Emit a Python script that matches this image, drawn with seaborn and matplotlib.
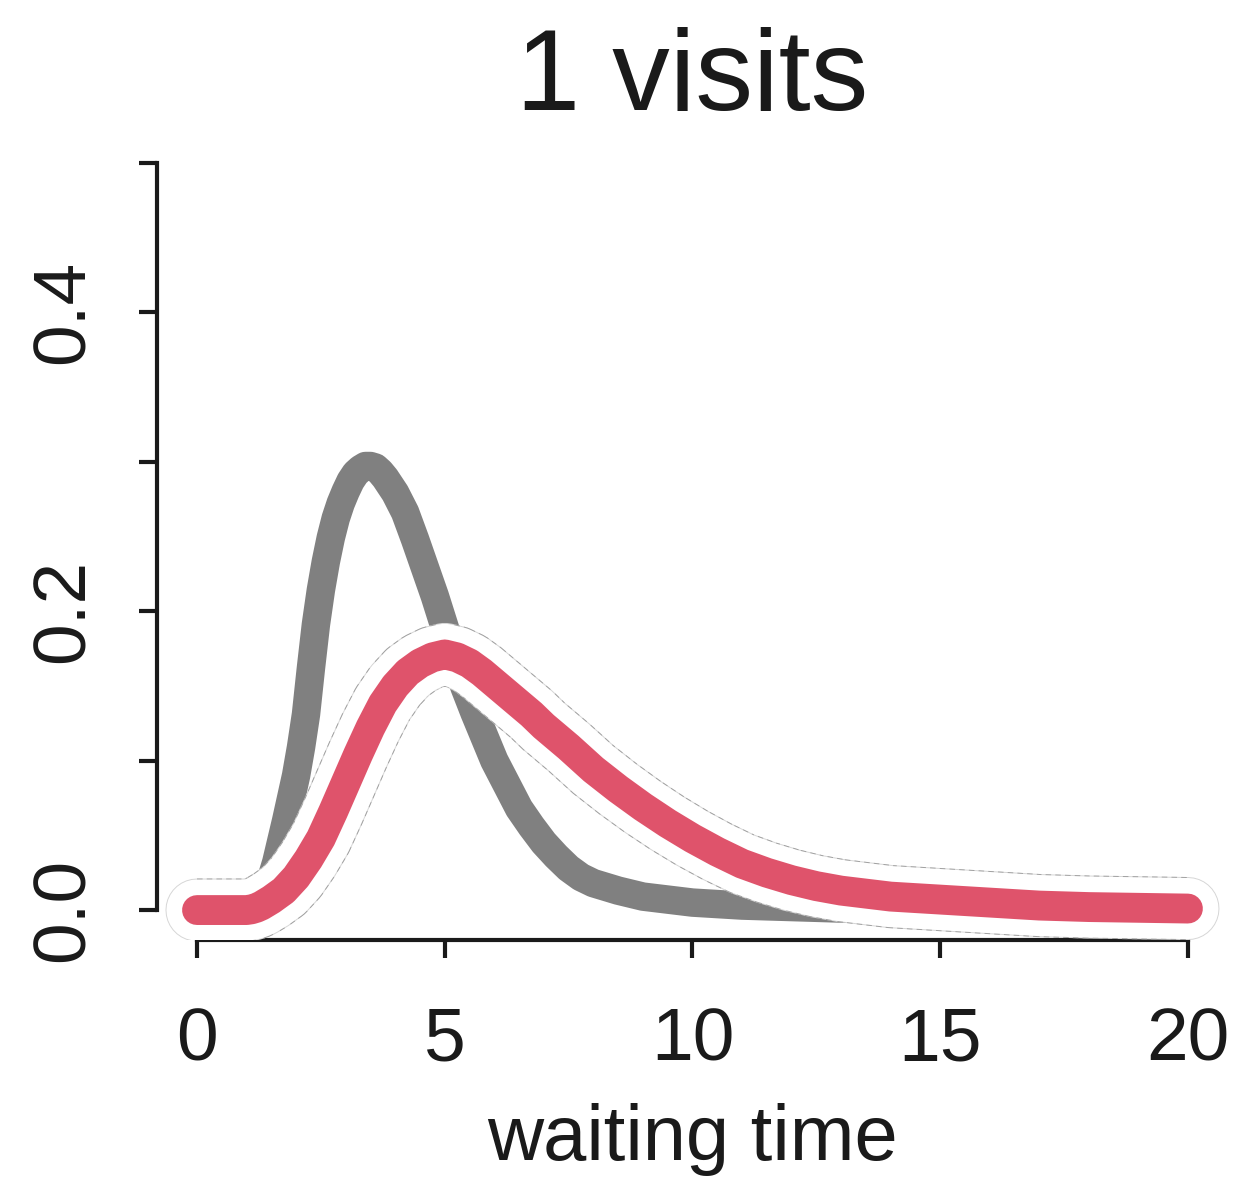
import matplotlib
matplotlib.use("Agg")
import matplotlib.pyplot as plt
import seaborn as sns
import pandas as pd

# waiting-time density with one visit (gray) and the updated density (red)
prior_t = [0.0, 0.5, 1.0, 1.1, 1.2, 1.3, 1.4, 1.5, 1.6, 1.7, 1.8, 1.9, 2.0, 2.1,
           2.2, 2.3, 2.4, 2.5, 2.6, 2.7, 2.8, 2.9, 3.0, 3.1, 3.2, 3.3, 3.4, 3.5,
           3.6, 3.7, 3.8, 3.9, 4.0, 4.2, 4.4, 4.6, 4.8, 5.0, 5.2, 5.4, 5.6, 5.8,
           6.0, 6.25, 6.5, 6.75, 7.0, 7.25, 7.5, 7.75, 8.0, 8.5, 9.0, 9.5, 10.0,
           10.5, 11.0, 12.0, 13.0, 14.0, 15.0, 16.0, 17.0, 18.0, 19.0, 20.0]
prior_density = [0.0, 0.0, 0.0, 0.001, 0.003, 0.007, 0.013, 0.021, 0.032, 0.046,
                 0.060, 0.075, 0.090, 0.109, 0.131, 0.162, 0.191, 0.214, 0.233,
                 0.249, 0.262, 0.272, 0.280, 0.287, 0.292, 0.295, 0.297, 0.297,
                 0.296, 0.293, 0.289, 0.284, 0.279, 0.266, 0.248, 0.229, 0.210,
                 0.189, 0.168, 0.149, 0.132, 0.116, 0.100, 0.084, 0.068, 0.056,
                 0.045, 0.036, 0.028, 0.022, 0.018, 0.013, 0.009, 0.007, 0.005,
                 0.004, 0.003, 0.002, 0.001, 0.0005, 0.0, 0.0, 0.0, 0.0, 0.0, 0.0]

post_t = [0.0, 0.5, 1.0, 1.1, 1.2, 1.3, 1.4, 1.5, 1.75, 2.0, 2.25, 2.5, 2.75,
          3.0, 3.25, 3.5, 3.75, 4.0, 4.25, 4.5, 4.75, 5.0, 5.25, 5.5, 5.75, 6.0,
          6.25, 6.5, 6.75, 7.0, 7.5, 8.0, 8.5, 9.0, 9.5, 10.0, 10.5, 11.0, 11.5,
          12.0, 12.5, 13.0, 14.0, 15.0, 16.0, 17.0, 18.0, 19.0, 20.0]
post_density = [0.0, 0.0, 0.0, 0.0005, 0.0015, 0.003, 0.005, 0.007, 0.013, 0.022,
                0.034, 0.048, 0.066, 0.085, 0.104, 0.122, 0.138, 0.150, 0.159,
                0.165, 0.169, 0.171, 0.169, 0.165, 0.159, 0.152, 0.145, 0.138,
                0.131, 0.123, 0.109, 0.094, 0.081, 0.069, 0.058, 0.048, 0.039,
                0.031, 0.025, 0.020, 0.016, 0.013, 0.009, 0.007, 0.005, 0.003,
                0.002, 0.0015, 0.001]

title_text = "1 visits"
x_label = "waiting time"
x_ticks = [0, 5, 10, 15, 20]
y_ticks = [0.0, 0.1, 0.2, 0.3, 0.4, 0.5]
y_tick_labels = ["0.0", "", "0.2", "", "0.4", ""]

GRAY = "#808080"
RED = "#DF536B"
INK = "#1a1a1a"

sns.set_theme(style="white")
plt.rcParams["font.family"] = ["Liberation Sans", "DejaVu Sans"]
plt.rcParams["lines.scale_dashes"] = False

prior_df = pd.DataFrame({"t": prior_t, "density": prior_density})
post_df = pd.DataFrame({"t": post_t, "density": post_density})

fig = plt.figure(figsize=(12.45, 11.81), dpi=100)
ax = fig.add_axes([0.1264, 0.2041, 0.8596, 0.6836])

lw_gray = 20.5
lw_red = 21.5
lw_halo = 44

round_ends = dict(solid_capstyle="round", solid_joinstyle="round", sort=False)
sns.lineplot(data=prior_df, x="t", y="density", ax=ax, color=GRAY, lw=lw_gray,
             zorder=2, **round_ends)
# white halo with a faint dashed rim keeps the red curve readable over the gray one
sns.lineplot(data=post_df, x="t", y="density", ax=ax, color="#d6d6d6",
             lw=lw_halo + 1.4, zorder=3, **round_ends)
sns.lineplot(data=post_df, x="t", y="density", ax=ax, color="#a0a0a0",
             lw=lw_halo + 1.4, zorder=3.5, linestyle=(0, (4, 3)),
             dash_capstyle="butt", dash_joinstyle="round", sort=False)
sns.lineplot(data=post_df, x="t", y="density", ax=ax, color="white",
             lw=lw_halo, zorder=4, **round_ends)
sns.lineplot(data=post_df, x="t", y="density", ax=ax, color=RED, lw=lw_red,
             zorder=5, **round_ends)

ax.set_xlim(-0.8, 20.8)
ax.set_ylim(-0.02, 0.52)

for side in ["top", "right"]:
    ax.spines[side].set_visible(False)
for side in ["left", "bottom"]:
    ax.spines[side].set_color(INK)
    ax.spines[side].set_linewidth(3)
ax.spines["left"].set_bounds(0, 0.5)
ax.spines["bottom"].set_bounds(0, 20)

ax.set_xticks(x_ticks)
ax.set_xticklabels([str(v) for v in x_ticks])
ax.set_yticks(y_ticks)
ax.set_yticklabels(y_tick_labels, rotation=90, va="center")

ax.tick_params(axis="both", direction="out", length=13, width=3, color=INK,
               labelcolor=INK, labelsize=54, left=True, bottom=True)
ax.tick_params(axis="x", pad=35)
ax.tick_params(axis="y", pad=29)

ax.set_xlabel(x_label, fontsize=56, color=INK, labelpad=20)
ax.set_ylabel("")
ax.set_title(title_text, fontsize=83, color=INK, pad=16)

fig.savefig("out.png", dpi=100, facecolor="white")
